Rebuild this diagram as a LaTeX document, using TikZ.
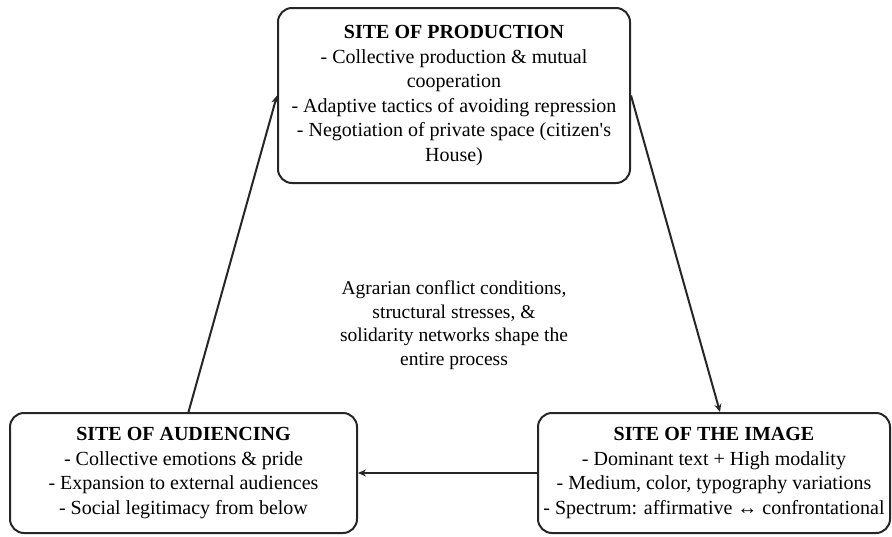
\documentclass[tikz,border=0pt]{standalone}
\usepackage{fontspec}
\setmainfont{Liberation Serif}
\usetikzlibrary{arrows.meta}
\begin{document}
\begin{tikzpicture}[x=1pt,y=-1pt,
  site/.style={draw=black!85, line width=2pt, rounded corners=14pt, align=center,
    font=\fontsize{20}{24.5}\selectfont, inner sep=0pt},
  arr/.style={draw=black!85, line width=2pt, -{Stealth[length=8pt,width=7pt]}},
  note/.style={align=center, font=\fontsize{19.5}{23.5}\selectfont}]
\useasboundingbox (0,0) rectangle (892,536);
\node[site, minimum width=352pt, minimum height=175pt] (prod) at (454,95.5)
  {\textbf{SITE OF PRODUCTION}\\- Collective production \& mutual\\cooperation\\- Adaptive tactics of avoiding repression\\- Negotiation of private space (citizen\textquotesingle s\\House)};
\node[site, minimum width=347pt, minimum height=120pt] (aud) at (183.5,473)
  {\textbf{SITE OF AUDIENCING}\\- Collective emotions \& pride\\- Expansion to external audiences\\- Social legitimacy from below};
\node[site, minimum width=352pt, minimum height=120pt] (img) at (714,473)
  {\textbf{SITE OF THE IMAGE}\\- Dominant text + High modality\\- Medium, color, typography variations\\- Spectrum: affirmative ↔ confrontational};
\node[note] (ctx) at (454,325)
  {Agrarian conflict conditions,\\structural stresses, \&\\solidarity networks shape the\\entire process};
\coordinate (audtop) at ([xshift=5pt]aud.north);
\coordinate (imgtop) at ([xshift=6pt]img.north);
\draw[arr] (audtop) -- (prod.west);
\draw[arr] (prod.east) -- (imgtop);
\draw[arr] (img.west) -- (aud.east);
\end{tikzpicture}
\end{document}
